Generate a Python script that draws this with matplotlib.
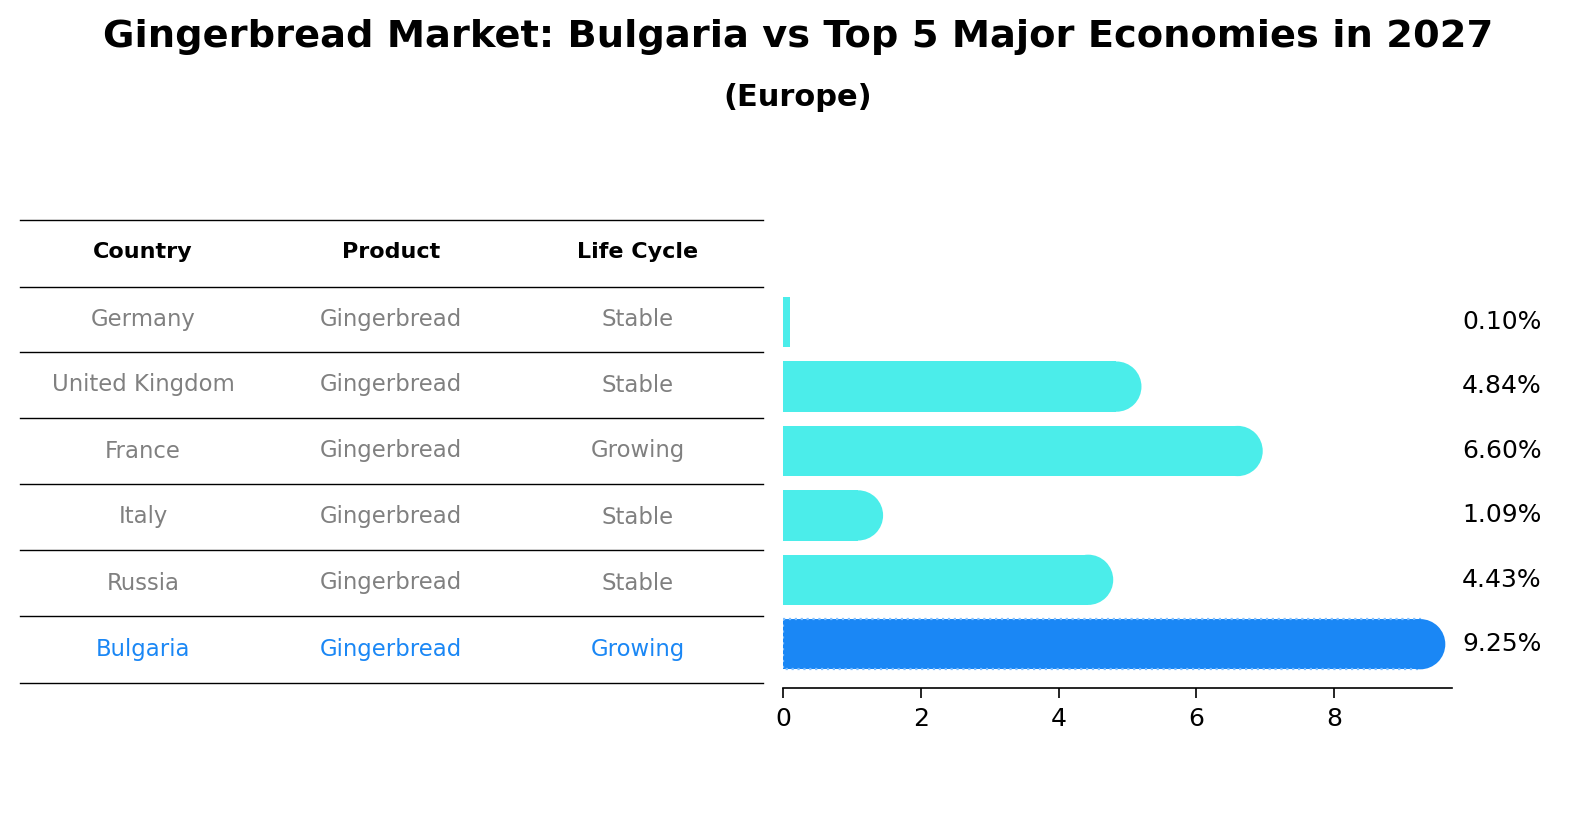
import matplotlib
matplotlib.use("Agg")
import matplotlib.pyplot as plt
from matplotlib.patches import Ellipse

countries = ["Germany", "United Kingdom", "France", "Italy", "Russia", "Bulgaria"]
products = ["Gingerbread"] * 6
life_cycle = ["Stable", "Stable", "Growing", "Stable", "Stable", "Growing"]
values = [0.10, 4.84, 6.60, 1.09, 4.43, 9.25]
labels = ["0.10%", "4.84%", "6.60%", "1.09%", "4.43%", "9.25%"]
headers = ["Country", "Product", "Life Cycle"]

W, H = 1586, 823
fig = plt.figure(figsize=(W / 200, H / 200), dpi=200)
fx = lambda p: p / W
fy = lambda p: 1 - p / H

cyan = "#4BEDEA"
blue = "#1A87F5"

fig.text(0.503, fy(37), "Gingerbread Market: Bulgaria vs Top 5 Major Economies in 2027",
         ha="center", va="center", fontsize=13.8, fontweight="bold")
fig.text(0.503, fy(98), "(Europe)", ha="center", va="center", fontsize=11, fontweight="bold")

# table
col_x = [143, 391, 638]
line_ys = [220, 287, 352, 418, 484, 550, 616, 683]
for y in line_ys:
    fig.add_artist(plt.Line2D([fx(20), fx(763)], [fy(y), fy(y)], color="black", lw=0.5))
for x, h in zip(col_x, headers):
    fig.text(fx(x), fy(252), h, ha="center", va="center", fontsize=8, fontweight="bold")
for i in range(len(countries)):
    yc = (line_ys[i + 1] + line_ys[i + 2]) / 2
    c = blue if countries[i] == "Bulgaria" else "#808080"
    for x, t in zip(col_x, [countries[i], products[i], life_cycle[i]]):
        fig.text(fx(x), fy(yc), t, ha="center", va="center", fontsize=8.2, color=c)

# bars
ax = fig.add_axes([fx(783), fy(688), fx(1452) - fx(783), (688 - 290) / H])
n = len(values)
bh = 0.78
cap_w = 50 / 68.9
for i, v in enumerate(values):
    c = blue if countries[i] == "Bulgaria" else cyan
    if countries[i] == "Bulgaria":
        ax.barh(i, v, height=bh, color=c, edgecolor="#7fbfff", linestyle=":", linewidth=0.8)
    else:
        ax.barh(i, v, height=bh, color=c)
    if v > 0.5:
        ax.add_patch(Ellipse((v, i), cap_w, bh, color=c, lw=0))
    fig.text(fx(1462), fy(322 + i * 64.4), labels[i], ha="left", va="center", fontsize=9)
ax.set_xlim(0, 9.71)
ax.set_ylim(n - 0.32, -0.5)
ax.set_yticks([])
ax.set_xticks([0, 2, 4, 6, 8])
ax.tick_params(axis="x", labelsize=9, width=0.6)
for s in ["top", "right", "left"]:
    ax.spines[s].set_visible(False)
ax.spines["bottom"].set_linewidth(0.6)

fig.savefig("out.png", dpi=200)
